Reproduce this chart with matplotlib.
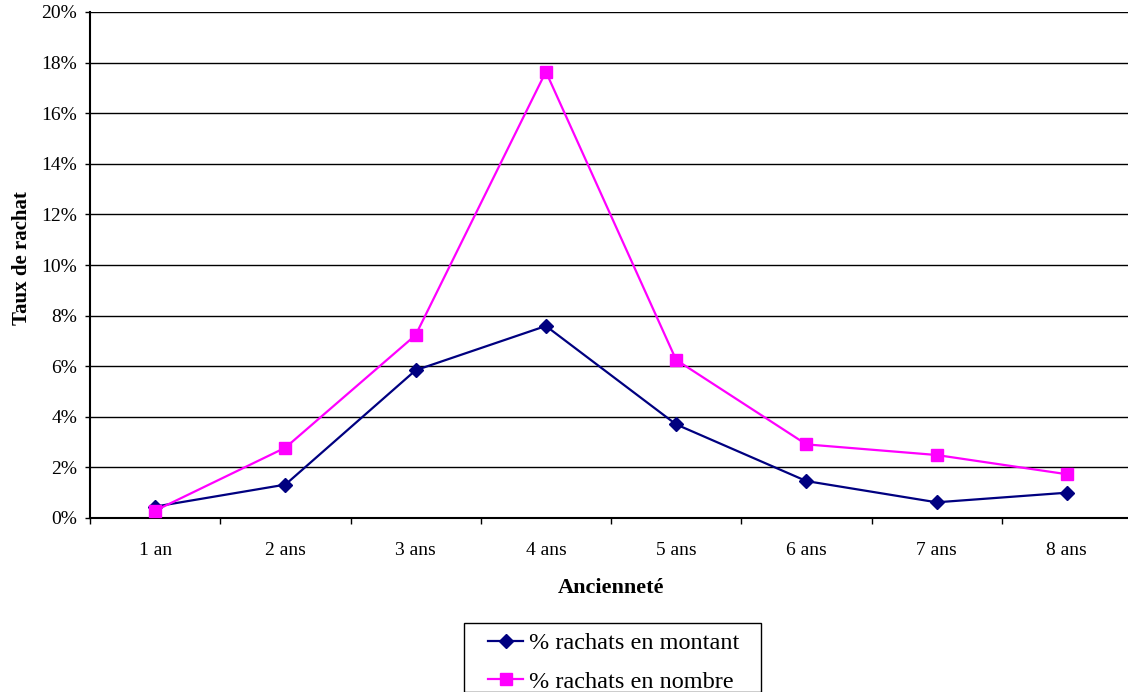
import matplotlib
matplotlib.use('Agg')
from matplotlib import pyplot as plt
from matplotlib.ticker import FixedLocator, NullFormatter, FixedFormatter, PercentFormatter
from matplotlib.patches import Rectangle
import numpy as np

plt.rcParams['font.family'] = ['Liberation Serif', 'DejaVu Serif']

categories = ['1 an', '2 ans', '3 ans', '4 ans', '5 ans', '6 ans', '7 ans', '8 ans']
montant = [0.45, 1.32, 5.84, 7.59, 3.70, 1.46, 0.62, 1.00]
nombre = [0.29, 2.78, 7.23, 17.64, 6.25, 2.91, 2.49, 1.73]
yticks = [0, 2, 4, 6, 8, 10, 12, 14, 16, 18, 20]

W, H = 1128, 692
fig = plt.figure(figsize=(W / 100, H / 100), dpi=100)
ax = fig.add_axes([90 / W, 1 - 518 / H, 1042 / W, 506 / H])

x = np.arange(1, len(categories) + 1)
ax.plot(x, montant, color='#000080', lw=1.6, marker='D', ms=7.5,
        label='% rachats en montant', zorder=3)
ax.plot(x, nombre, color='#FF00FF', lw=1.6, marker='s', ms=8.5,
        label='% rachats en nombre', zorder=3)

ax.set_xlim(0.5, len(categories) + 0.5)
ax.set_ylim(0, 20)

# y axis
ax.set_yticks(yticks)
ax.yaxis.set_major_formatter(PercentFormatter(decimals=0))
ax.yaxis.grid(True, color='black', lw=1)
ax.set_axisbelow(True)

# x axis: tick marks between categories, labels at centers
ax.xaxis.set_major_locator(FixedLocator(np.arange(0.5, len(categories) + 1, 1)))
ax.xaxis.set_major_formatter(NullFormatter())
ax.xaxis.set_minor_locator(FixedLocator(x))
ax.xaxis.set_minor_formatter(FixedFormatter(categories))
ax.tick_params(axis='x', which='minor', length=0, pad=17, labelsize=14)
ax.tick_params(axis='x', which='major', length=4.3, width=1, direction='out')
ax.tick_params(axis='y', length=3.6, width=1, direction='out', pad=5.6, labelsize=14)

for s in ['top', 'right']:
    ax.spines[s].set_visible(False)
for s in ['left', 'bottom']:
    ax.spines[s].set_linewidth(1.5)
    ax.spines[s].set_color('black')

ax.set_xlabel('Ancienneté', fontsize=16, fontweight='bold', labelpad=14)
ax.set_ylabel('Taux de rachat', fontsize=15, fontweight='bold')
ax.yaxis.set_label_coords((32 - 90) / 1042, (518 - 258) / 506)

# legend box, bottom edge runs off the figure like in the original
fig.patches.append(Rectangle((464 / W, 0), 297 / W, (H - 623) / H,
                             transform=fig.transFigure, fill=False,
                             edgecolor='black', lw=1))
leg = fig.legend(loc='upper left', bbox_to_anchor=(488 / W, 1 - 632 / H),
                 borderaxespad=0, fontsize=17.5, frameon=False,
                 handlelength=1.45, handletextpad=0.22, borderpad=0,
                 labelspacing=0.68)

fig.savefig('out.png', dpi=100)
